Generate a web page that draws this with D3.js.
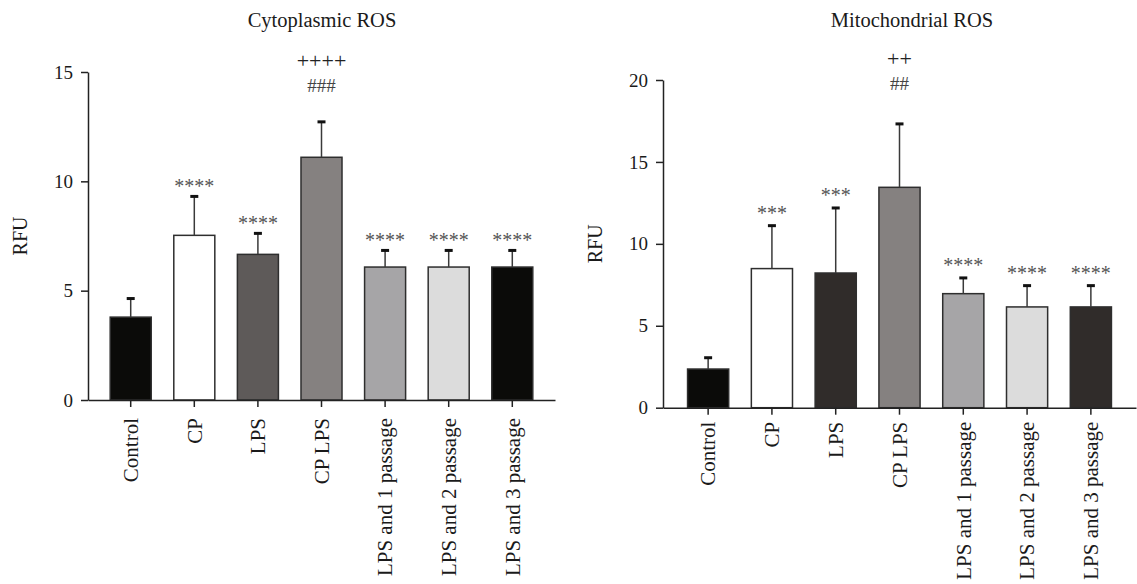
<!DOCTYPE html>
<html>
<head>
<meta charset="utf-8">
<script src="https://cdn.jsdelivr.net/npm/d3@7"></script>
<style>
  body { margin: 0; background: #fff; }
  svg { display: block; }
  text { font-family: "Liberation Serif", "DejaVu Serif", serif; fill: #1a1a1a; }
</style>
</head>
<body>
<svg id="chart" width="1137" height="584"></svg>
<script>
// groups on the x axis
var groups = ["Control", "CP", "LPS", "CP LPS", "LPS and 1 passage", "LPS and 2 passage", "LPS and 3 passage"];

// Cytoplasmic ROS (RFU), mean and upper error
var cytoMean = [3.79, 7.53, 6.66, 11.1, 6.08, 6.08, 6.08];
var cytoErr  = [0.85, 1.78, 0.96, 1.62, 0.76, 0.76, 0.76];
var cytoStars = ["", "****", "****", "", "****", "****", "****"];
var cytoPlus  = ["", "", "", "++++", "", "", ""];
var cytoHash  = ["", "", "", "###", "", "", ""];
var cytoTicks = [0, 5, 10, 15];

// Mitochondrial ROS (RFU)
var mitoMean = [2.36, 8.49, 8.22, 13.45, 6.96, 6.15, 6.15];
var mitoErr  = [0.69, 2.62, 3.97, 3.87, 0.96, 1.30, 1.30];
var mitoStars = ["", "***", "***", "", "****", "****", "****"];
var mitoPlus  = ["", "", "", "++", "", "", ""];
var mitoHash  = ["", "", "", "##", "", "", ""];
var mitoTicks = [0, 5, 10, 15, 20];

var cytoFill = ["#0b0b09", "#ffffff", "#5e5a59", "#858180", "#a6a5a7", "#dcdcdc", "#0b0b09"];
var mitoFill = ["#0b0b09", "#ffffff", "#302c2a", "#858180", "#a6a5a7", "#dcdcdc", "#302c2a"];

var svg = d3.select("#chart");

function drawPanel(opt) {
  var g = svg.append("g");

  var x = d3.scaleBand()
    .domain(groups)
    .range([opt.left, opt.right])
    .paddingInner(0.355)
    .paddingOuter(opt.padOuter);

  var y = d3.scaleLinear()
    .domain([0, opt.max])
    .range([opt.bottom, opt.top]);

  // title
  g.append("text")
    .attr("x", opt.titleX)
    .attr("y", 27)
    .attr("text-anchor", "middle")
    .style("font-size", "20.5px")
    .text(opt.title);

  // y label
  g.append("text")
    .attr("transform", "translate(" + (opt.left - 68) + "," + ((opt.top + opt.bottom) / 2) + ") rotate(-90)")
    .attr("text-anchor", "middle")
    .attr("dy", "0.35em")
    .style("font-size", "20px")
    .text("RFU");

  // bars
  g.selectAll(".bar")
    .data(opt.mean)
    .enter().append("rect")
    .attr("class", "bar")
    .attr("x", function(d, i) { return x(groups[i]); })
    .attr("y", function(d) { return y(d); })
    .attr("width", x.bandwidth())
    .attr("height", function(d) { return y(0) - y(d); })
    .attr("fill", function(d, i) { return opt.fill[i]; })
    .attr("stroke", "#2e2e2e")
    .attr("stroke-width", 1.5);

  // error bars (upper only)
  var cx = function(i) { return x(groups[i]) + x.bandwidth() / 2; };
  opt.mean.forEach(function(m, i) {
    var top = y(m + opt.err[i]);
    g.append("line")
      .attr("x1", cx(i)).attr("x2", cx(i))
      .attr("y1", y(m)).attr("y2", top)
      .attr("stroke", "#3a3a3a")
      .attr("stroke-width", 1.5);
    g.append("line")
      .attr("x1", cx(i) - 4).attr("x2", cx(i) + 4)
      .attr("y1", top).attr("y2", top)
      .attr("stroke", "#111")
      .attr("stroke-width", 3);

    if (opt.stars[i]) {
      g.append("text")
        .attr("x", cx(i))
        .attr("y", top - opt.starGap + 9)
        .attr("text-anchor", "middle")
        .style("font-size", "20px")
        .style("fill", "#555")
        .text(opt.stars[i]);
    }
    if (opt.hash[i]) {
      g.append("text")
        .attr("x", cx(i))
        .attr("y", top - opt.hashGap + 6)
        .attr("text-anchor", "middle")
        .style("font-size", "19px")
        .style("fill", "#444")
        .text(opt.hash[i]);
    }
    if (opt.plus[i]) {
      g.append("text")
        .attr("x", cx(i))
        .attr("y", top - opt.hashGap - 24 + 6)
        .attr("text-anchor", "middle")
        .style("font-size", "22px")
        .style("fill", "#222")
        .text(opt.plus[i]);
    }
  });

  // y axis
  var yAxis = g.append("g")
    .attr("transform", "translate(" + opt.left + ",0)")
    .call(d3.axisLeft(y).tickValues(opt.ticks).tickSize(7).tickSizeOuter(0).tickPadding(8));
  yAxis.select(".domain").attr("stroke", "#222").attr("stroke-width", 1.5);
  yAxis.selectAll(".tick line").attr("stroke", "#222").attr("stroke-width", 1.5);
  yAxis.selectAll(".tick text")
    .style("font-size", "19px")
    .style("font-family", "'Liberation Serif', serif")
    .attr("fill", "#1a1a1a");

  // x axis
  var xAxis = g.append("g")
    .attr("transform", "translate(0," + opt.bottom + ")")
    .call(d3.axisBottom(x).tickSize(7).tickSizeOuter(0));
  xAxis.select(".domain").attr("stroke", "#222").attr("stroke-width", 1.5);
  xAxis.selectAll(".tick line").attr("stroke", "#222").attr("stroke-width", 1.5);
  xAxis.selectAll(".tick text")
    .style("font-size", "21px")
    .style("font-family", "'Liberation Serif', serif")
    .attr("fill", "#1a1a1a")
    .attr("text-anchor", "end")
    .attr("transform", "rotate(-90)")
    .attr("x", -opt.labelGap)
    .attr("y", 0)
    .attr("dy", "0.35em");
}

drawPanel({
  title: "Cytoplasmic ROS", titleX: 322,
  mean: cytoMean, err: cytoErr, stars: cytoStars, plus: cytoPlus, hash: cytoHash,
  fill: cytoFill, ticks: cytoTicks, max: 15,
  left: 88, right: 555, top: 72, bottom: 400, padOuter: 0.349,
  starGap: 12, hashGap: 36, labelGap: 18
});

drawPanel({
  title: "Mitochondrial ROS", titleX: 912,
  mean: mitoMean, err: mitoErr, stars: mitoStars, plus: mitoPlus, hash: mitoHash,
  fill: mitoFill, ticks: mitoTicks, max: 20,
  left: 663, right: 1136, top: 80, bottom: 407.7, padOuter: 0.385,
  starGap: 15, hashGap: 40, labelGap: 14
});
</script>
</body>
</html>
